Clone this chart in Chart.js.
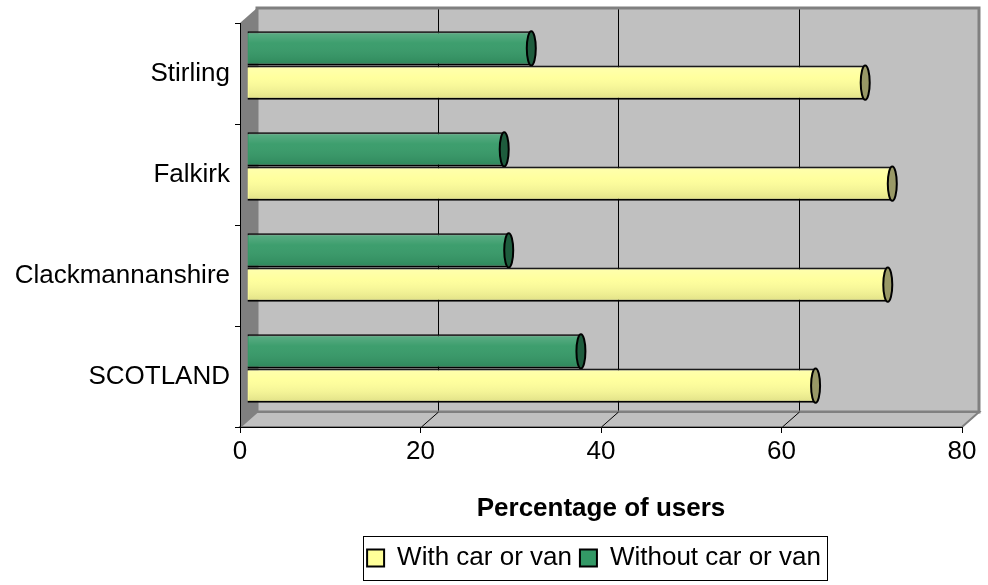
<!DOCTYPE html>
<html>
<head>
<meta charset="utf-8">
<script src="https://cdn.jsdelivr.net/npm/chart.js@4.4.0/dist/chart.umd.min.js"></script>
<style>
html,body{margin:0;padding:0;background:#fff;}
#wrap{width:988px;height:585px;position:relative;}
</style>
</head>
<body>
<div id="wrap"><canvas id="c" width="988" height="585"></canvas></div>
<script>
// ---- data ----
const categories = ['Stirling', 'Falkirk', 'Clackmannanshire', 'SCOTLAND'];
const withCarOrVan = [68.5, 71.5, 71.0, 63.0];
const withoutCarOrVan = [31.5, 28.5, 29.0, 37.0];
const xTicks = [0, 20, 40, 60, 80];
const seriesNames = ['With car or van', 'Without car or van'];
const axisTitle = 'Percentage of users';

// ---- 3D look ----
const DX = 17, DY = -15;      // depth offset of back wall
const BX = 7, BY = -8;        // depth offset of bars
const FONT = 'Liberation Sans, Arial, sans-serif';

const threeD = {
  id: 'threeD',
  afterLayout(chart) {
    // centre the legend under the plot area
    const a = chart.chartArea, lg = chart.legend;
    if (lg) {
      const c = (a.left + a.right) / 2 - 7;
      const half = Math.min(c, chart.width - c);
      lg.left = c - half;
      lg.right = c + half;
    }
  },
  beforeDraw(chart) {
    const ctx = chart.ctx, a = chart.chartArea, xs = chart.scales.x;
    ctx.save();
    ctx.fillStyle = '#fff';
    ctx.fillRect(0, 0, chart.width, chart.height);
    // back wall
    ctx.fillStyle = '#c0c0c0';
    ctx.fillRect(a.left + DX, a.top + DY, a.right - a.left, a.bottom - a.top);
    // gridlines on back wall
    ctx.strokeStyle = '#000';
    ctx.lineWidth = 1;
    xTicks.slice(1, -1).forEach(v => {
      const x = Math.round(xs.getPixelForValue(v)) + 0.5;
      ctx.beginPath();
      ctx.moveTo(x + DX, a.top + DY);
      ctx.lineTo(x + DX, a.bottom + DY);
      ctx.stroke();
    });
    ctx.strokeStyle = '#808080';
    ctx.lineWidth = 3;
    ctx.strokeRect(a.left + DX, a.top + DY, a.right - a.left, a.bottom - a.top);
    // left wall
    ctx.fillStyle = '#808080';
    ctx.beginPath();
    ctx.moveTo(a.left, a.top);
    ctx.lineTo(a.left + DX, a.top + DY);
    ctx.lineTo(a.left + DX, a.bottom + DY);
    ctx.lineTo(a.left, a.bottom);
    ctx.closePath();
    ctx.fill();
    // floor
    ctx.fillStyle = '#c0c0c0';
    ctx.beginPath();
    ctx.moveTo(a.left, a.bottom);
    ctx.lineTo(a.left + DX, a.bottom + DY);
    ctx.lineTo(a.right + DX, a.bottom + DY);
    ctx.lineTo(a.right, a.bottom);
    ctx.closePath();
    ctx.fill();
    ctx.lineWidth = 2;
    ctx.strokeStyle = '#808080';
    ctx.stroke();
    // floor diagonals
    ctx.strokeStyle = '#000';
    ctx.lineWidth = 1;
    xTicks.slice(1, -1).forEach(v => {
      const x = Math.round(xs.getPixelForValue(v)) + 0.5;
      ctx.beginPath();
      ctx.moveTo(x + DX, a.bottom + DY);
      ctx.lineTo(x, a.bottom);
      ctx.stroke();
    });
    ctx.restore();
  },
  beforeDatasetsDraw(chart) {
    chart.ctx.save();
    chart.ctx.translate(BX, BY);
  },
  afterDatasetsDraw(chart) {
    const ctx = chart.ctx;
    chart.data.datasets.forEach((ds, di) => {
      const meta = chart.getDatasetMeta(di);
      meta.data.forEach(bar => {
        const h = bar.height, top = bar.y - h / 2, left = bar.base, right = bar.x;
        // shading
        const g = ctx.createLinearGradient(0, top, 0, top + h);
        g.addColorStop(0, 'rgba(255,255,255,0.22)');
        g.addColorStop(0.35, 'rgba(255,255,255,0.05)');
        g.addColorStop(1, 'rgba(0,0,0,0.13)');
        ctx.fillStyle = g;
        ctx.fillRect(left + 1, top + 1, right - left - 2, h - 2);
        // end cap
        ctx.beginPath();
        ctx.ellipse(right, bar.y, 4.5, h / 2, 0, 0, Math.PI * 2);
        ctx.fillStyle = ds.capColor;
        ctx.fill();
        ctx.lineWidth = 2;
        ctx.strokeStyle = '#000';
        ctx.stroke();
      });
    });
    ctx.restore();
  },
  afterDraw(chart) {
    const boxes = chart.legend.legendHitBoxes;
    if (!boxes || !boxes.length) return;
    const ctx = chart.ctx;
    const first = boxes[0];
    const l = Math.min(...boxes.map(b => b.left)) - 4;
    const r = Math.max(...boxes.map(b => b.left + b.width)) + 6;
    const t = first.top - 9, b = first.top + first.height + 9;
    ctx.save();
    ctx.strokeStyle = '#000';
    ctx.lineWidth = 1;
    ctx.strokeRect(Math.round(l) + 0.5, Math.round(t) + 0.5, Math.round(r - l), Math.round(b - t));
    ctx.restore();
  }
};

new Chart(document.getElementById('c'), {
  type: 'bar',
  data: {
    labels: categories,
    datasets: [
      {
        label: seriesNames[1],
        data: withoutCarOrVan,
        backgroundColor: '#339966',
        borderColor: '#000',
        borderWidth: 2,
        capColor: '#1e5c3d'
      },
      {
        label: seriesNames[0],
        data: withCarOrVan,
        backgroundColor: '#ffff99',
        borderColor: '#000',
        borderWidth: 2,
        capColor: '#999966'
      }
    ]
  },
  options: {
    indexAxis: 'y',
    responsive: false,
    animation: false,
    devicePixelRatio: 1,
    layout: { padding: { left: 0, right: 26, top: 23, bottom: 4 } },
    datasets: { bar: { categoryPercentage: 0.68, barPercentage: 1.0 } },
    scales: {
      x: {
        min: 0, max: 80,
        afterBuildTicks(s) { s.ticks = xTicks.map(v => ({ value: v })); },
        afterFit(s) { s.height = 110; },
        ticks: { color: '#000', font: { family: FONT, size: 26 }, padding: 3 },
        grid: { drawOnChartArea: false, color: '#000', tickLength: 6, lineWidth: 1 },
        border: { color: '#000', width: 1 },
        title: {
          display: true, text: axisTitle, color: '#000',
          font: { family: FONT, size: 26, weight: 'bold' },
          padding: { top: 30, bottom: 13 }
        }
      },
      y: {
        afterFit(s) { s.width = 240; },
        ticks: { color: '#000', font: { family: FONT, size: 26 }, padding: 5 },
        grid: { offset: true, drawOnChartArea: false, color: '#000', tickLength: 5, lineWidth: 1 },
        border: { color: '#000', width: 1 }
      }
    },
    plugins: {
      legend: {
        position: 'bottom',
        reverse: true,
        labels: {
          color: '#000',
          font: { family: FONT, size: 26 },
          boxWidth: 17, boxHeight: 17, padding: 8
        }
      },
      tooltip: { enabled: false }
    }
  },
  plugins: [threeD]
});
</script>
</body>
</html>
